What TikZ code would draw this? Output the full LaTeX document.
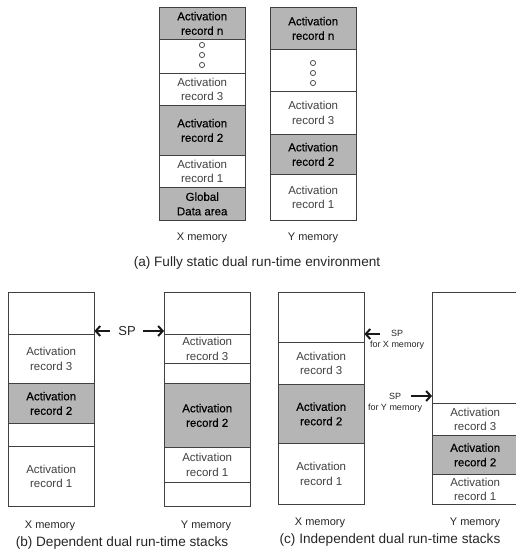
\documentclass[tikz,border=0pt]{standalone}
\usepackage{fontspec}
\setmainfont{Liberation Sans}
\newfontfamily\heavyish[FakeBold=0.4]{Liberation Sans}
\usetikzlibrary{arrows.meta}

% One memory cell: name, extra style, left x, top y, bottom y, text
\newcommand\mkcell[6]{%
  \node[cell,#2,minimum height={(#5)-(#4)}] (#1) at (#3,#4) {#6};}

\tikzset{
  cell/.style={draw=black!75, line width=0.9pt, anchor=north west,
    inner sep=0pt, align=center, minimum width=85.5,
    font=\fontsize{11.5}{14.5}\selectfont, text=black!75},
  shaded/.style={fill=black!29, text=black,
    font=\heavyish\fontsize{11.5}{14.5}\selectfont},
  memlabel/.style={font=\fontsize{11}{13}\selectfont, text=black!85},
  caption/.style={font=\fontsize{13.6}{16}\selectfont, text=black!85},
  splabel/.style={font=\fontsize{13}{15}\selectfont, text=black!85},
  smallsp/.style={font=\fontsize{9}{11}\selectfont, text=black!85},
  sparrow/.style={line width=2pt, black!90,
    -{Straight Barb[length=4.5pt,width=10pt]}},
  ring/.style={draw=black!70, line width=0.8pt},
}

\begin{document}
\begin{tikzpicture}[x=1pt,y=-1pt]
\useasboundingbox (0,0) rectangle (515,559);

% ---------- (a) fully static ----------
\mkcell{axn}{shaded}{159}{7}{39}{Activation\\record n}
\mkcell{axd}{}{159}{39}{73}{}
\mkcell{ax3}{}{159}{73}{105}{Activation\\record 3}
\mkcell{ax2}{shaded}{159}{105}{155}{Activation\\record 2}
\mkcell{ax1}{}{159}{155}{187}{Activation\\record 1}
\mkcell{axg}{shaded}{159}{187}{220}{Global\\Data area}

\mkcell{ayn}{shaded}{270}{7}{49}{Activation\\record n}
\mkcell{ayd}{}{270}{49}{91}{}
\mkcell{ay3}{}{270}{91}{134}{Activation\\record 3}
\mkcell{ay2}{shaded}{270}{134}{174}{Activation\\record 2}
\mkcell{ay1}{}{270}{174}{220}{Activation\\record 1}

% ellipsis rings
\foreach \yy in {45,55,65} \draw[ring] (202,\yy) circle (2.6);
\foreach \yy in {63,73,83} \draw[ring] (313,\yy) circle (2.6);

\node[memlabel] (axlab) at (202,238) {X memory};
\node[memlabel] (aylab) at (313,238) {Y memory};
\node[caption] (acap) at (257,263) {(a) Fully static dual run-time environment};

% ---------- (b) dependent stacks ----------
\mkcell{bx0}{}{8}{292}{334}{}
\mkcell{bx3}{}{8}{334}{383}{Activation\\record 3}
\mkcell{bx2}{shaded}{8}{383}{423}{Activation\\record 2}
\mkcell{bxe}{}{8}{423}{446}{}
\mkcell{bx1}{}{8}{446}{506}{Activation\\record 1}

\mkcell{by0}{}{164}{292}{334}{}
\mkcell{by3}{}{164}{334}{363}{Activation\\record 3}
\mkcell{bye}{}{164}{363}{383}{}
\mkcell{by2}{shaded}{164}{383}{447}{Activation\\record 2}
\mkcell{by1}{}{164}{447}{482}{Activation\\record 1}
\mkcell{byf}{}{164}{482}{506}{}

\node[splabel] (bsp) at (127,331) {SP};
\coordinate (bspl) at (110,331);
\coordinate (bspr) at (143,331);
\draw[sparrow] (bspl) -- (bx0.east |- bspl);
\draw[sparrow] (bspr) -- (by0.west |- bspr);

\node[memlabel] (bxlab) at (50,526) {X memory};
\node[memlabel] (bylab) at (206,526) {Y memory};
\node[caption] (bcap) at (122,543) {(b) Dependent dual run-time stacks};

% ---------- (c) independent stacks ----------
\mkcell{cx0}{}{278}{292}{342}{}
\mkcell{cx3}{}{278}{342}{384}{Activation\\record 3}
\mkcell{cx2}{shaded}{278}{384}{443}{Activation\\record 2}
\mkcell{cx1}{}{278}{443}{504}{Activation\\record 1}

% the Y stack runs on past the right-hand edge
\mkcell{cy0}{minimum width=92}{432}{292}{403}{}
\mkcell{cy3}{minimum width=92}{432}{403}{435}{\hspace*{-6.5pt}Activation\\\hspace*{-6.5pt}record 3}
\mkcell{cy2}{shaded,minimum width=92}{432}{435}{474}{\hspace*{-6.5pt}Activation\\\hspace*{-6.5pt}record 2}
\mkcell{cy1}{minimum width=92}{432}{474}{504}{\hspace*{-6.5pt}Activation\\\hspace*{-6.5pt}record 1}

\node[smallsp] (cspx) at (397,333) {SP};
\node[smallsp] (cspxf) at (397,345) {for X memory};
\coordinate (cspxt) at (380,334);
\draw[sparrow] (cspxt) -- (cx0.east |- cspxt);

\node[smallsp] (cspy) at (395,396) {SP};
\node[smallsp] (cspyf) at (395,408) {for Y memory};
\coordinate (cspyt) at (411,396);
\draw[sparrow] (cspyt) -- (cy0.west |- cspyt);

\node[memlabel] (cxlab) at (320,523) {X memory};
\node[memlabel] (cylab) at (475,523) {Y memory};
\node[caption] (ccap) at (390,540) {(c) Independent dual run-time stacks};
\end{tikzpicture}
\end{document}
